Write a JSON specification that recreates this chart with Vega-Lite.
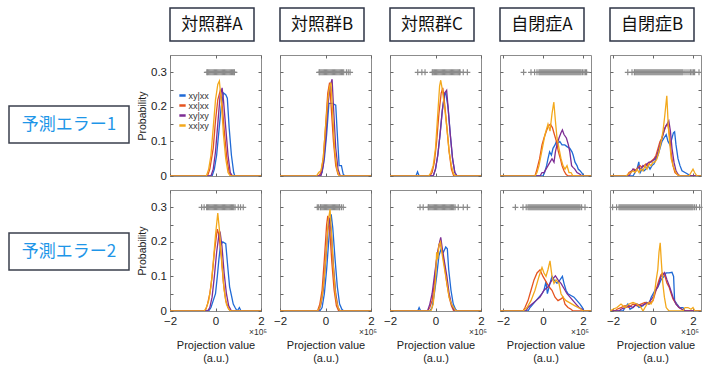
{
"$schema":"https://vega.github.io/schema/vega-lite/v6.json",
"padding":{"left":8,"top":6,"right":0,"bottom":0},
"background":"white",
"config":{
"view":{"stroke":"#8c8c8c","strokeWidth":1},
"axis":{"domain":false,"grid":false,"tickSize":-3,"tickColor":"#666","tickWidth":1,"labelFont":"Liberation Sans","labelFontSize":11.5,"labelColor":"#222","labelOverlap":false,"labelFlush":false,"titleFont":"Liberation Sans","titleFontSize":11,"titleFontWeight":"normal","titleColor":"#222"},
"text":{"font":"Noto Sans CJK JP"}
},
"spacing":7,
"hconcat":[
{"spacing":88,"vconcat":[
{"width":120,"height":8,"view":{"stroke":null},"data":{"values":[{"t":""}]},"mark":{"type":"text"},"encoding":{"text":{"field":"t"}}},
{"width":120,"height":37,"view":{"stroke":"#3a3f4c","strokeWidth":1.5},"data":{"values":[{"t":"予測エラー1"}]},"mark":{"type":"text","font":"Noto Sans CJK JP","fontSize":17,"color":"#1e96e8"},"encoding":{"text":{"field":"t"}}},
{"width":120,"height":37,"view":{"stroke":"#3a3f4c","strokeWidth":1.5},"data":{"values":[{"t":"予測エラー2"}]},"mark":{"type":"text","font":"Noto Sans CJK JP","fontSize":17,"color":"#1e96e8"},"encoding":{"text":{"field":"t"}}}
]},
{"columns":5,"bounds":"flush","spacing":{"row":14,"column":19},"align":{"row":"each","column":"all"},
"resolve":{"scale":{"color":"independent"},"legend":{"color":"independent"}},
"concat":[
{"width":84,"height":33,"view":{"stroke":"#2e3446","strokeWidth":1.5},"data":{"values":[{"t":"対照群A"}]},"mark":{"type":"text","fontSize":17,"color":"#111"},"encoding":{"text":{"field":"t"}}},
{"width":84,"height":33,"view":{"stroke":"#2e3446","strokeWidth":1.5},"data":{"values":[{"t":"対照群B"}]},"mark":{"type":"text","fontSize":17,"color":"#111"},"encoding":{"text":{"field":"t"}}},
{"width":84,"height":33,"view":{"stroke":"#2e3446","strokeWidth":1.5},"data":{"values":[{"t":"対照群C"}]},"mark":{"type":"text","fontSize":17,"color":"#111"},"encoding":{"text":{"field":"t"}}},
{"width":84,"height":33,"view":{"stroke":"#2e3446","strokeWidth":1.5},"data":{"values":[{"t":"自閉症A"}]},"mark":{"type":"text","fontSize":17,"color":"#111"},"encoding":{"text":{"field":"t"}}},
{"width":84,"height":33,"view":{"stroke":"#2e3446","strokeWidth":1.5},"data":{"values":[{"t":"自閉症B"}]},"mark":{"type":"text","fontSize":17,"color":"#111"},"encoding":{"text":{"field":"t"}}},

{"width":91,"height":121,"resolve":{"axis":{"x":"independent","y":"independent"}},"layer":[
{"data":{"values":[{"x":-0.38},{"x":-0.35},{"x":-0.3},{"x":-0.25},{"x":-0.2},{"x":-0.15},{"x":-0.1},{"x":-0.05},{"x":0},{"x":0.05},{"x":0.1},{"x":0.15},{"x":0.2},{"x":0.25},{"x":0.3},{"x":0.35},{"x":0.4},{"x":0.45},{"x":0.5},{"x":0.55},{"x":0.6},{"x":0.65},{"x":0.7},{"x":0.75},{"x":0.8},{"x":0.83}]},
"mark":{"type":"point","shape":"M-1,0H1M0,-1V1","size":36,"filled":false,"color":"#8a8a8a","strokeWidth":1.2,"opacity":1},
"encoding":{"x":{"field":"x","type":"quantitative","scale":{"domain":[-2,2],"nice":false,"zero":false},"axis":{"orient":"top","values":[-2,0,2],"labels":false,"title":null}},"y":{"datum":0.3,"type":"quantitative","scale":{"domain":[0,0.35],"nice":false},"axis":{"orient":"right","values":[0,0.05,0.1,0.15,0.2,0.25,0.3],"labels":false,"title":null}}}},
{"data":{"values":[
{"s":"xy|xx","x":-2,"y":0},{"s":"xy|xx","x":-0.15,"y":0},{"s":"xy|xx","x":-0.05,"y":0.02},{"s":"xy|xx","x":0.05,"y":0.06},{"s":"xy|xx","x":0.15,"y":0.13},{"s":"xy|xx","x":0.25,"y":0.2},{"s":"xy|xx","x":0.35,"y":0.24},{"s":"xy|xx","x":0.45,"y":0.235},{"s":"xy|xx","x":0.52,"y":0.225},{"s":"xy|xx","x":0.6,"y":0.14},{"s":"xy|xx","x":0.7,"y":0.06},{"s":"xy|xx","x":0.8,"y":0.01},{"s":"xy|xx","x":0.85,"y":0},{"s":"xy|xx","x":2,"y":0},
{"s":"xx|xx","x":-2,"y":0},{"s":"xx|xx","x":-0.35,"y":0},{"s":"xx|xx","x":-0.25,"y":0.02},{"s":"xx|xx","x":-0.1,"y":0.08},{"s":"xx|xx","x":0,"y":0.16},{"s":"xx|xx","x":0.1,"y":0.22},{"s":"xx|xx","x":0.22,"y":0.25},{"s":"xx|xx","x":0.3,"y":0.2},{"s":"xx|xx","x":0.4,"y":0.12},{"s":"xx|xx","x":0.5,"y":0.05},{"s":"xx|xx","x":0.6,"y":0.01},{"s":"xx|xx","x":0.7,"y":0},{"s":"xx|xx","x":2,"y":0},
{"s":"xy|xy","x":-2,"y":0},{"s":"xy|xy","x":-0.2,"y":0},{"s":"xy|xy","x":-0.1,"y":0.02},{"s":"xy|xy","x":0,"y":0.07},{"s":"xy|xy","x":0.1,"y":0.15},{"s":"xy|xy","x":0.2,"y":0.23},{"s":"xy|xy","x":0.29,"y":0.255},{"s":"xy|xy","x":0.35,"y":0.22},{"s":"xy|xy","x":0.45,"y":0.14},{"s":"xy|xy","x":0.55,"y":0.06},{"s":"xy|xy","x":0.65,"y":0.01},{"s":"xy|xy","x":0.75,"y":0},{"s":"xy|xy","x":2,"y":0},
{"s":"xx|xy","x":-2,"y":0},{"s":"xx|xy","x":-0.4,"y":0},{"s":"xx|xy","x":-0.3,"y":0.02},{"s":"xx|xy","x":-0.2,"y":0.06},{"s":"xx|xy","x":-0.1,"y":0.14},{"s":"xx|xy","x":0,"y":0.22},{"s":"xx|xy","x":0.1,"y":0.265},{"s":"xx|xy","x":0.17,"y":0.275},{"s":"xx|xy","x":0.25,"y":0.22},{"s":"xx|xy","x":0.35,"y":0.12},{"s":"xx|xy","x":0.45,"y":0.05},{"s":"xx|xy","x":0.55,"y":0.01},{"s":"xx|xy","x":0.65,"y":0},{"s":"xx|xy","x":2,"y":0}
]},
"mark":{"type":"line","strokeWidth":1.3,"clip":true},
"encoding":{"x":{"field":"x","type":"quantitative","scale":{"domain":[-2,2],"nice":false,"zero":false},"axis":{"values":[-2,0,2],"labels":false,"title":null}},
"y":{"field":"y","type":"quantitative","scale":{"domain":[0,0.35],"nice":false},"axis":{"values":[0,0.05,0.1,0.15,0.2,0.25,0.3],"format":".2~f","labelExpr":"indexof([0,0.1,0.2,0.3], datum.value) >= 0 ? datum.label : ''","labelPadding":6.5,"title":"Probability","titleFontSize":10.5,"titlePadding":3}},
"color":{"field":"s","type":"nominal","scale":{"domain":["xy|xx","xx|xx","xy|xy","xx|xy"],"range":["#1f6ad6","#e5531f","#7d2d94","#f3a81b"]},"legend":{"orient":"none","legendX":8,"legendY":36,"title":null,"symbolType":"stroke","symbolSize":40,"symbolStrokeWidth":2.5,"labelFontSize":9,"labelFont":"Liberation Sans","labelColor":"#333","rowPadding":-2,"labelOffset":1.5,"padding":0}}}}
]},

{"width":91,"height":121,"resolve":{"axis":{"x":"independent","y":"independent"}},"layer":[
{"data":{"values":[{"x":-0.28},{"x":-0.25},{"x":-0.2},{"x":-0.15},{"x":-0.1},{"x":-0.05},{"x":0},{"x":0.05},{"x":0.1},{"x":0.15},{"x":0.2},{"x":0.25},{"x":0.3},{"x":0.35},{"x":0.4},{"x":0.45},{"x":0.5},{"x":0.55},{"x":0.6},{"x":0.65},{"x":0.7},{"x":0.75},{"x":0.8},{"x":0.92},{"x":1.0},{"x":1.08}]},
"mark":{"type":"point","shape":"M-1,0H1M0,-1V1","size":36,"filled":false,"color":"#8a8a8a","strokeWidth":1.2,"opacity":1},
"encoding":{"x":{"field":"x","type":"quantitative","scale":{"domain":[-2,2],"nice":false,"zero":false},"axis":{"orient":"top","values":[-2,0,2],"labels":false,"title":null}},"y":{"datum":0.3,"type":"quantitative","scale":{"domain":[0,0.35],"nice":false},"axis":{"orient":"right","values":[0,0.05,0.1,0.15,0.2,0.25,0.3],"labels":false,"title":null}}}},
{"data":{"values":[
{"s":"xy|xx","x":-2,"y":0},{"s":"xy|xx","x":-0.25,"y":0},{"s":"xy|xx","x":-0.15,"y":0.01},{"s":"xy|xx","x":-0.05,"y":0.05},{"s":"xy|xx","x":0.05,"y":0.12},{"s":"xy|xx","x":0.15,"y":0.21},{"s":"xy|xx","x":0.3,"y":0.21},{"s":"xy|xx","x":0.45,"y":0.205},{"s":"xy|xx","x":0.52,"y":0.12},{"s":"xy|xx","x":0.6,"y":0.03},{"s":"xy|xx","x":0.7,"y":0.03},{"s":"xy|xx","x":0.78,"y":0.005},{"s":"xy|xx","x":0.85,"y":0},{"s":"xy|xx","x":2,"y":0},
{"s":"xx|xx","x":-2,"y":0},{"s":"xx|xx","x":-0.3,"y":0},{"s":"xx|xx","x":-0.2,"y":0.01},{"s":"xx|xx","x":-0.1,"y":0.05},{"s":"xx|xx","x":0,"y":0.14},{"s":"xx|xx","x":0.1,"y":0.24},{"s":"xx|xx","x":0.18,"y":0.27},{"s":"xx|xx","x":0.25,"y":0.2},{"s":"xx|xx","x":0.35,"y":0.1},{"s":"xx|xx","x":0.45,"y":0.03},{"s":"xx|xx","x":0.55,"y":0.005},{"s":"xx|xx","x":0.65,"y":0},{"s":"xx|xx","x":2,"y":0},
{"s":"xy|xy","x":-2,"y":0},{"s":"xy|xy","x":-0.2,"y":0},{"s":"xy|xy","x":-0.1,"y":0.03},{"s":"xy|xy","x":0,"y":0.1},{"s":"xy|xy","x":0.1,"y":0.2},{"s":"xy|xy","x":0.2,"y":0.26},{"s":"xy|xy","x":0.29,"y":0.28},{"s":"xy|xy","x":0.35,"y":0.2},{"s":"xy|xy","x":0.45,"y":0.08},{"s":"xy|xy","x":0.55,"y":0.02},{"s":"xy|xy","x":0.65,"y":0},{"s":"xy|xy","x":2,"y":0},
{"s":"xx|xy","x":-2,"y":0},{"s":"xx|xy","x":-0.4,"y":0},{"s":"xx|xy","x":-0.3,"y":0.01},{"s":"xx|xy","x":-0.2,"y":0.015},{"s":"xx|xy","x":-0.1,"y":0.05},{"s":"xx|xy","x":0,"y":0.14},{"s":"xx|xy","x":0.1,"y":0.22},{"s":"xx|xy","x":0.18,"y":0.26},{"s":"xx|xy","x":0.24,"y":0.27},{"s":"xx|xy","x":0.3,"y":0.2},{"s":"xx|xy","x":0.4,"y":0.08},{"s":"xx|xy","x":0.5,"y":0.02},{"s":"xx|xy","x":0.6,"y":0},{"s":"xx|xy","x":2,"y":0}
]},
"mark":{"type":"line","strokeWidth":1.3,"clip":true},
"encoding":{"x":{"field":"x","type":"quantitative","scale":{"domain":[-2,2],"nice":false,"zero":false},"axis":{"values":[-2,0,2],"labels":false,"title":null}},
"y":{"field":"y","type":"quantitative","scale":{"domain":[0,0.35],"nice":false},"axis":{"values":[0,0.05,0.1,0.15,0.2,0.25,0.3],"labels":false,"title":null}},
"color":{"field":"s","type":"nominal","scale":{"domain":["xy|xx","xx|xx","xy|xy","xx|xy"],"range":["#1f6ad6","#e5531f","#7d2d94","#f3a81b"]},"legend":null}}}
]},

{"width":91,"height":121,"resolve":{"axis":{"x":"independent","y":"independent"}},"layer":[
{"data":{"values":[{"x":-0.78},{"x":-0.6},{"x":-0.46},{"x":-0.14},{"x":-0.1},{"x":-0.05},{"x":0},{"x":0.05},{"x":0.1},{"x":0.15},{"x":0.2},{"x":0.25},{"x":0.3},{"x":0.35},{"x":0.4},{"x":0.45},{"x":0.5},{"x":0.55},{"x":0.6},{"x":0.65},{"x":0.7},{"x":0.75},{"x":0.8},{"x":0.85},{"x":0.9},{"x":0.95},{"x":1.0},{"x":1.05},{"x":1.08},{"x":1.22},{"x":1.4}]},
"mark":{"type":"point","shape":"M-1,0H1M0,-1V1","size":36,"filled":false,"color":"#8a8a8a","strokeWidth":1.2,"opacity":1},
"encoding":{"x":{"field":"x","type":"quantitative","scale":{"domain":[-2,2],"nice":false,"zero":false},"axis":{"orient":"top","values":[-2,0,2],"labels":false,"title":null}},"y":{"datum":0.3,"type":"quantitative","scale":{"domain":[0,0.35],"nice":false},"axis":{"orient":"right","values":[0,0.05,0.1,0.15,0.2,0.25,0.3],"labels":false,"title":null}}}},
{"data":{"values":[
{"s":"xy|xx","x":-2,"y":0},{"s":"xy|xx","x":-0.86,"y":0},{"s":"xy|xx","x":-0.79,"y":0.012},{"s":"xy|xx","x":-0.72,"y":0},{"s":"xy|xx","x":-0.1,"y":0},{"s":"xy|xx","x":0,"y":0.02},{"s":"xy|xx","x":0.1,"y":0.06},{"s":"xy|xx","x":0.2,"y":0.12},{"s":"xy|xx","x":0.3,"y":0.19},{"s":"xy|xx","x":0.4,"y":0.235},{"s":"xy|xx","x":0.45,"y":0.24},{"s":"xy|xx","x":0.55,"y":0.2},{"s":"xy|xx","x":0.65,"y":0.12},{"s":"xy|xx","x":0.75,"y":0.05},{"s":"xy|xx","x":0.85,"y":0.01},{"s":"xy|xx","x":0.95,"y":0},{"s":"xy|xx","x":2,"y":0},
{"s":"xx|xx","x":-2,"y":0},{"s":"xx|xx","x":-0.25,"y":0},{"s":"xx|xx","x":-0.15,"y":0.01},{"s":"xx|xx","x":-0.05,"y":0.04},{"s":"xx|xx","x":0.05,"y":0.1},{"s":"xx|xx","x":0.15,"y":0.18},{"s":"xx|xx","x":0.25,"y":0.24},{"s":"xx|xx","x":0.32,"y":0.255},{"s":"xx|xx","x":0.4,"y":0.21},{"s":"xx|xx","x":0.5,"y":0.14},{"s":"xx|xx","x":0.6,"y":0.07},{"s":"xx|xx","x":0.7,"y":0.02},{"s":"xx|xx","x":0.8,"y":0},{"s":"xx|xx","x":2,"y":0},
{"s":"xy|xy","x":-2,"y":0},{"s":"xy|xy","x":-0.1,"y":0},{"s":"xy|xy","x":0,"y":0.02},{"s":"xy|xy","x":0.1,"y":0.06},{"s":"xy|xy","x":0.2,"y":0.12},{"s":"xy|xy","x":0.3,"y":0.19},{"s":"xy|xy","x":0.4,"y":0.24},{"s":"xy|xy","x":0.49,"y":0.248},{"s":"xy|xy","x":0.55,"y":0.2},{"s":"xy|xy","x":0.65,"y":0.12},{"s":"xy|xy","x":0.75,"y":0.05},{"s":"xy|xy","x":0.85,"y":0.01},{"s":"xy|xy","x":0.95,"y":0},{"s":"xy|xy","x":2,"y":0},
{"s":"xx|xy","x":-2,"y":0},{"s":"xx|xy","x":-0.3,"y":0},{"s":"xx|xy","x":-0.2,"y":0.01},{"s":"xx|xy","x":-0.1,"y":0.03},{"s":"xx|xy","x":0,"y":0.08},{"s":"xx|xy","x":0.1,"y":0.18},{"s":"xx|xy","x":0.18,"y":0.26},{"s":"xx|xy","x":0.23,"y":0.277},{"s":"xx|xy","x":0.3,"y":0.25},{"s":"xx|xy","x":0.4,"y":0.2},{"s":"xx|xy","x":0.5,"y":0.14},{"s":"xx|xy","x":0.6,"y":0.07},{"s":"xx|xy","x":0.7,"y":0.03},{"s":"xx|xy","x":0.8,"y":0.005},{"s":"xx|xy","x":0.9,"y":0},{"s":"xx|xy","x":2,"y":0}
]},
"mark":{"type":"line","strokeWidth":1.3,"clip":true},
"encoding":{"x":{"field":"x","type":"quantitative","scale":{"domain":[-2,2],"nice":false,"zero":false},"axis":{"values":[-2,0,2],"labels":false,"title":null}},
"y":{"field":"y","type":"quantitative","scale":{"domain":[0,0.35],"nice":false},"axis":{"values":[0,0.05,0.1,0.15,0.2,0.25,0.3],"labels":false,"title":null}},
"color":{"field":"s","type":"nominal","scale":{"domain":["xy|xx","xx|xx","xy|xy","xx|xy"],"range":["#1f6ad6","#e5531f","#7d2d94","#f3a81b"]},"legend":null}}}
]},

{"width":91,"height":121,"resolve":{"axis":{"x":"independent","y":"independent"}},"layer":[
{"data":{"values":[{"x":-0.97},{"x":-0.6},{"x":-0.42},{"x":-0.3},{"x":-0.2},{"x":-0.15},{"x":-0.1},{"x":-0.05},{"x":0},{"x":0.05},{"x":0.1},{"x":0.15},{"x":0.2},{"x":0.25},{"x":0.3},{"x":0.35},{"x":0.4},{"x":0.45},{"x":0.5},{"x":0.55},{"x":0.6},{"x":0.65},{"x":0.7},{"x":0.75},{"x":0.8},{"x":0.85},{"x":0.9},{"x":0.95},{"x":1.0},{"x":1.05},{"x":1.1},{"x":1.15},{"x":1.2},{"x":1.25},{"x":1.3},{"x":1.35},{"x":1.4},{"x":1.45},{"x":1.5},{"x":1.55},{"x":1.6},{"x":1.65},{"x":1.7},{"x":1.75},{"x":1.8},{"x":1.85},{"x":1.9},{"x":1.97},{"x":2.05},{"x":2.12},{"x":2.18}]},
"mark":{"type":"point","shape":"M-1,0H1M0,-1V1","size":36,"filled":false,"color":"#8a8a8a","strokeWidth":1.2,"opacity":1},
"encoding":{"x":{"field":"x","type":"quantitative","scale":{"domain":[-2.15,2.4],"nice":false,"zero":false},"axis":{"orient":"top","values":[-2,0,2],"labels":false,"title":null}},"y":{"datum":0.3,"type":"quantitative","scale":{"domain":[0,0.35],"nice":false},"axis":{"orient":"right","values":[0,0.05,0.1,0.15,0.2,0.25,0.3],"labels":false,"title":null}}}},
{"data":{"values":[
{"s":"xy|xx","x":-2.15,"y":0},{"s":"xy|xx","x":0,"y":0},{"s":"xy|xx","x":0.08,"y":0.01},{"s":"xy|xx","x":0.18,"y":0.03},{"s":"xy|xx","x":0.25,"y":0.05},{"s":"xy|xx","x":0.33,"y":0.07},{"s":"xy|xx","x":0.42,"y":0.06},{"s":"xy|xx","x":0.5,"y":0.08},{"s":"xy|xx","x":0.6,"y":0.09},{"s":"xy|xx","x":0.67,"y":0.1},{"s":"xy|xx","x":0.75,"y":0.095},{"s":"xy|xx","x":0.84,"y":0.1},{"s":"xy|xx","x":0.95,"y":0.09},{"s":"xy|xx","x":1.09,"y":0.09},{"s":"xy|xx","x":1.2,"y":0.085},{"s":"xy|xx","x":1.34,"y":0.08},{"s":"xy|xx","x":1.45,"y":0.07},{"s":"xy|xx","x":1.51,"y":0.06},{"s":"xy|xx","x":1.6,"y":0.04},{"s":"xy|xx","x":1.7,"y":0.03},{"s":"xy|xx","x":1.76,"y":0.02},{"s":"xy|xx","x":1.85,"y":0.015},{"s":"xy|xx","x":1.93,"y":0.01},{"s":"xy|xx","x":2.05,"y":0},{"s":"xy|xx","x":2.4,"y":0},
{"s":"xx|xx","x":-2.15,"y":0},{"s":"xx|xx","x":-0.4,"y":0},{"s":"xx|xx","x":-0.3,"y":0.02},{"s":"xx|xx","x":-0.17,"y":0.05},{"s":"xx|xx","x":-0.05,"y":0.09},{"s":"xx|xx","x":0.05,"y":0.11},{"s":"xx|xx","x":0.17,"y":0.13},{"s":"xx|xx","x":0.27,"y":0.145},{"s":"xx|xx","x":0.37,"y":0.15},{"s":"xx|xx","x":0.47,"y":0.14},{"s":"xx|xx","x":0.57,"y":0.12},{"s":"xx|xx","x":0.67,"y":0.1},{"s":"xx|xx","x":0.77,"y":0.07},{"s":"xx|xx","x":0.87,"y":0.05},{"s":"xx|xx","x":0.95,"y":0.03},{"s":"xx|xx","x":1.05,"y":0.015},{"s":"xx|xx","x":1.15,"y":0.005},{"s":"xx|xx","x":1.25,"y":0},{"s":"xx|xx","x":2.4,"y":0},
{"s":"xy|xy","x":-2.15,"y":0},{"s":"xy|xy","x":-0.15,"y":0},{"s":"xy|xy","x":-0.05,"y":0.01},{"s":"xy|xy","x":0.05,"y":0.01},{"s":"xy|xy","x":0.15,"y":0.02},{"s":"xy|xy","x":0.25,"y":0.03},{"s":"xy|xy","x":0.35,"y":0.04},{"s":"xy|xy","x":0.45,"y":0.05},{"s":"xy|xy","x":0.55,"y":0.04},{"s":"xy|xy","x":0.62,"y":0.07},{"s":"xy|xy","x":0.7,"y":0.09},{"s":"xy|xy","x":0.8,"y":0.11},{"s":"xy|xy","x":0.9,"y":0.125},{"s":"xy|xy","x":0.97,"y":0.133},{"s":"xy|xy","x":1.05,"y":0.12},{"s":"xy|xy","x":1.17,"y":0.11},{"s":"xy|xy","x":1.27,"y":0.09},{"s":"xy|xy","x":1.34,"y":0.07},{"s":"xy|xy","x":1.43,"y":0.03},{"s":"xy|xy","x":1.5,"y":0.025},{"s":"xy|xy","x":1.59,"y":0.02},{"s":"xy|xy","x":1.7,"y":0.01},{"s":"xy|xy","x":1.85,"y":0.005},{"s":"xy|xy","x":1.95,"y":0},{"s":"xy|xy","x":2.4,"y":0},
{"s":"xx|xy","x":-2.15,"y":0},{"s":"xx|xy","x":-0.4,"y":0},{"s":"xx|xy","x":-0.3,"y":0.01},{"s":"xx|xy","x":-0.2,"y":0.03},{"s":"xx|xy","x":-0.1,"y":0.06},{"s":"xx|xy","x":0,"y":0.09},{"s":"xx|xy","x":0.1,"y":0.12},{"s":"xx|xy","x":0.25,"y":0.15},{"s":"xx|xy","x":0.35,"y":0.13},{"s":"xx|xy","x":0.45,"y":0.18},{"s":"xx|xy","x":0.54,"y":0.214},{"s":"xx|xy","x":0.62,"y":0.16},{"s":"xx|xy","x":0.7,"y":0.11},{"s":"xx|xy","x":0.8,"y":0.08},{"s":"xx|xy","x":0.9,"y":0.05},{"s":"xx|xy","x":1.0,"y":0.03},{"s":"xx|xy","x":1.1,"y":0.02},{"s":"xx|xy","x":1.2,"y":0.03},{"s":"xx|xy","x":1.3,"y":0.01},{"s":"xx|xy","x":1.4,"y":0.01},{"s":"xx|xy","x":1.5,"y":0},{"s":"xx|xy","x":2.4,"y":0}
]},
"mark":{"type":"line","strokeWidth":1.3,"clip":true},
"encoding":{"x":{"field":"x","type":"quantitative","scale":{"domain":[-2.15,2.4],"nice":false,"zero":false},"axis":{"values":[-2,0,2],"labels":false,"title":null}},
"y":{"field":"y","type":"quantitative","scale":{"domain":[0,0.35],"nice":false},"axis":{"values":[0,0.05,0.1,0.15,0.2,0.25,0.3],"labels":false,"title":null}},
"color":{"field":"s","type":"nominal","scale":{"domain":["xy|xx","xx|xx","xy|xy","xx|xy"],"range":["#1f6ad6","#e5531f","#7d2d94","#f3a81b"]},"legend":null}}}
]},

{"width":91,"height":121,"resolve":{"axis":{"x":"independent","y":"independent"}},"layer":[
{"data":{"values":[{"x":-1.26},{"x":-1.05},{"x":-0.93},{"x":-0.9},{"x":-0.85},{"x":-0.8},{"x":-0.75},{"x":-0.7},{"x":-0.65},{"x":-0.6},{"x":-0.55},{"x":-0.5},{"x":-0.45},{"x":-0.4},{"x":-0.35},{"x":-0.3},{"x":-0.25},{"x":-0.2},{"x":-0.15},{"x":-0.1},{"x":-0.05},{"x":0},{"x":0.05},{"x":0.1},{"x":0.15},{"x":0.2},{"x":0.25},{"x":0.3},{"x":0.35},{"x":0.4},{"x":0.45},{"x":0.5},{"x":0.55},{"x":0.6},{"x":0.65},{"x":0.7},{"x":0.75},{"x":0.8},{"x":0.85},{"x":0.9},{"x":0.95},{"x":1.0},{"x":1.05},{"x":1.1},{"x":1.15},{"x":1.2},{"x":1.25},{"x":1.3},{"x":1.35},{"x":1.4},{"x":1.45},{"x":1.5},{"x":1.6},{"x":1.7},{"x":1.8},{"x":1.88},{"x":1.95},{"x":2.02},{"x":2.08},{"x":2.3}]},
"mark":{"type":"point","shape":"M-1,0H1M0,-1V1","size":36,"filled":false,"color":"#8a8a8a","strokeWidth":1.2,"opacity":1},
"encoding":{"x":{"field":"x","type":"quantitative","scale":{"domain":[-2.15,2.4],"nice":false,"zero":false},"axis":{"orient":"top","values":[-2,0,2],"labels":false,"title":null}},"y":{"datum":0.3,"type":"quantitative","scale":{"domain":[0,0.35],"nice":false},"axis":{"orient":"right","values":[0,0.05,0.1,0.15,0.2,0.25,0.3],"labels":false,"title":null}}}},
{"data":{"values":[
{"s":"xy|xx","x":-2.15,"y":0},{"s":"xy|xx","x":-1.0,"y":0},{"s":"xy|xx","x":-0.9,"y":0.01},{"s":"xy|xx","x":-0.8,"y":0.02},{"s":"xy|xx","x":-0.71,"y":0.041},{"s":"xy|xx","x":-0.64,"y":0.01},{"s":"xy|xx","x":-0.55,"y":0.02},{"s":"xy|xx","x":-0.45,"y":0.015},{"s":"xy|xx","x":-0.35,"y":0.02},{"s":"xy|xx","x":-0.25,"y":0.03},{"s":"xy|xx","x":-0.15,"y":0.02},{"s":"xy|xx","x":-0.05,"y":0.03},{"s":"xy|xx","x":0.05,"y":0.035},{"s":"xy|xx","x":0.15,"y":0.05},{"s":"xy|xx","x":0.25,"y":0.06},{"s":"xy|xx","x":0.35,"y":0.08},{"s":"xy|xx","x":0.45,"y":0.1},{"s":"xy|xx","x":0.55,"y":0.11},{"s":"xy|xx","x":0.66,"y":0.12},{"s":"xy|xx","x":0.75,"y":0.1},{"s":"xy|xx","x":0.85,"y":0.09},{"s":"xy|xx","x":0.95,"y":0.11},{"s":"xy|xx","x":1.02,"y":0.125},{"s":"xy|xx","x":1.08,"y":0.128},{"s":"xy|xx","x":1.15,"y":0.09},{"s":"xy|xx","x":1.25,"y":0.05},{"s":"xy|xx","x":1.35,"y":0.03},{"s":"xy|xx","x":1.45,"y":0.015},{"s":"xy|xx","x":1.6,"y":0.01},{"s":"xy|xx","x":1.75,"y":0.005},{"s":"xy|xx","x":1.85,"y":0},{"s":"xy|xx","x":2.4,"y":0},
{"s":"xx|xx","x":-2.15,"y":0},{"s":"xx|xx","x":-1.3,"y":0},{"s":"xx|xx","x":-1.2,"y":0.01},{"s":"xx|xx","x":-1.05,"y":0.015},{"s":"xx|xx","x":-0.95,"y":0.02},{"s":"xx|xx","x":-0.85,"y":0.015},{"s":"xx|xx","x":-0.75,"y":0.025},{"s":"xx|xx","x":-0.65,"y":0.03},{"s":"xx|xx","x":-0.55,"y":0.025},{"s":"xx|xx","x":-0.45,"y":0.03},{"s":"xx|xx","x":-0.35,"y":0.035},{"s":"xx|xx","x":-0.25,"y":0.03},{"s":"xx|xx","x":-0.15,"y":0.04},{"s":"xx|xx","x":-0.05,"y":0.045},{"s":"xx|xx","x":0.05,"y":0.05},{"s":"xx|xx","x":0.15,"y":0.06},{"s":"xx|xx","x":0.25,"y":0.08},{"s":"xx|xx","x":0.35,"y":0.1},{"s":"xx|xx","x":0.45,"y":0.11},{"s":"xx|xx","x":0.55,"y":0.13},{"s":"xx|xx","x":0.65,"y":0.145},{"s":"xx|xx","x":0.74,"y":0.15},{"s":"xx|xx","x":0.82,"y":0.12},{"s":"xx|xx","x":0.9,"y":0.07},{"s":"xx|xx","x":1.0,"y":0.03},{"s":"xx|xx","x":1.1,"y":0.01},{"s":"xx|xx","x":1.2,"y":0.005},{"s":"xx|xx","x":1.3,"y":0},{"s":"xx|xx","x":2.4,"y":0},
{"s":"xy|xy","x":-2.15,"y":0},{"s":"xy|xy","x":-1.2,"y":0},{"s":"xy|xy","x":-1.1,"y":0.01},{"s":"xy|xy","x":-1.0,"y":0.02},{"s":"xy|xy","x":-0.9,"y":0.015},{"s":"xy|xy","x":-0.8,"y":0.02},{"s":"xy|xy","x":-0.7,"y":0.025},{"s":"xy|xy","x":-0.6,"y":0.02},{"s":"xy|xy","x":-0.5,"y":0.03},{"s":"xy|xy","x":-0.4,"y":0.025},{"s":"xy|xy","x":-0.3,"y":0.035},{"s":"xy|xy","x":-0.2,"y":0.04},{"s":"xy|xy","x":-0.1,"y":0.04},{"s":"xy|xy","x":0,"y":0.045},{"s":"xy|xy","x":0.1,"y":0.05},{"s":"xy|xy","x":0.2,"y":0.06},{"s":"xy|xy","x":0.3,"y":0.08},{"s":"xy|xy","x":0.4,"y":0.1},{"s":"xy|xy","x":0.5,"y":0.12},{"s":"xy|xy","x":0.6,"y":0.14},{"s":"xy|xy","x":0.7,"y":0.15},{"s":"xy|xy","x":0.79,"y":0.16},{"s":"xy|xy","x":0.87,"y":0.13},{"s":"xy|xy","x":0.95,"y":0.08},{"s":"xy|xy","x":1.05,"y":0.04},{"s":"xy|xy","x":1.15,"y":0.015},{"s":"xy|xy","x":1.25,"y":0.005},{"s":"xy|xy","x":1.35,"y":0},{"s":"xy|xy","x":2.4,"y":0},
{"s":"xx|xy","x":-2.15,"y":0},{"s":"xx|xy","x":-1.35,"y":0},{"s":"xx|xy","x":-1.25,"y":0.005},{"s":"xx|xy","x":-1.1,"y":0.01},{"s":"xx|xy","x":-1.0,"y":0.015},{"s":"xx|xy","x":-0.9,"y":0.01},{"s":"xx|xy","x":-0.8,"y":0.02},{"s":"xx|xy","x":-0.7,"y":0.01},{"s":"xx|xy","x":-0.6,"y":0.02},{"s":"xx|xy","x":-0.5,"y":0.015},{"s":"xx|xy","x":-0.4,"y":0.03},{"s":"xx|xy","x":-0.3,"y":0.02},{"s":"xx|xy","x":-0.2,"y":0.035},{"s":"xx|xy","x":-0.1,"y":0.03},{"s":"xx|xy","x":0,"y":0.04},{"s":"xx|xy","x":0.1,"y":0.04},{"s":"xx|xy","x":0.2,"y":0.05},{"s":"xx|xy","x":0.3,"y":0.07},{"s":"xx|xy","x":0.41,"y":0.1},{"s":"xx|xy","x":0.5,"y":0.13},{"s":"xx|xy","x":0.58,"y":0.17},{"s":"xx|xy","x":0.69,"y":0.232},{"s":"xx|xy","x":0.76,"y":0.15},{"s":"xx|xy","x":0.83,"y":0.1},{"s":"xx|xy","x":0.91,"y":0.05},{"s":"xx|xy","x":1.0,"y":0.03},{"s":"xx|xy","x":1.1,"y":0.015},{"s":"xx|xy","x":1.2,"y":0.005},{"s":"xx|xy","x":1.35,"y":0},{"s":"xx|xy","x":1.8,"y":0},{"s":"xx|xy","x":1.9,"y":0.01},{"s":"xx|xy","x":2.0,"y":0.02},{"s":"xx|xy","x":2.08,"y":0.01},{"s":"xx|xy","x":2.2,"y":0},{"s":"xx|xy","x":2.4,"y":0}
]},
"mark":{"type":"line","strokeWidth":1.3,"clip":true},
"encoding":{"x":{"field":"x","type":"quantitative","scale":{"domain":[-2.15,2.4],"nice":false,"zero":false},"axis":{"values":[-2,0,2],"labels":false,"title":null}},
"y":{"field":"y","type":"quantitative","scale":{"domain":[0,0.35],"nice":false},"axis":{"values":[0,0.05,0.1,0.15,0.2,0.25,0.3],"labels":false,"title":null}},
"color":{"field":"s","type":"nominal","scale":{"domain":["xy|xx","xx|xx","xy|xy","xx|xy"],"range":["#1f6ad6","#e5531f","#7d2d94","#f3a81b"]},"legend":null}}}
]},

{"width":91,"height":121,"resolve":{"axis":{"x":"independent","y":"independent"}},"layer":[
{"data":{"values":[{"x":-0.61},{"x":-0.5},{"x":-0.39},{"x":-0.35},{"x":-0.3},{"x":-0.25},{"x":-0.2},{"x":-0.15},{"x":-0.1},{"x":-0.05},{"x":0},{"x":0.05},{"x":0.1},{"x":0.15},{"x":0.2},{"x":0.25},{"x":0.3},{"x":0.35},{"x":0.4},{"x":0.45},{"x":0.5},{"x":0.55},{"x":0.6},{"x":0.65},{"x":0.7},{"x":0.75},{"x":0.8},{"x":0.86},{"x":1.0},{"x":1.1},{"x":1.22}]},
"mark":{"type":"point","shape":"M-1,0H1M0,-1V1","size":36,"filled":false,"color":"#8a8a8a","strokeWidth":1.2,"opacity":1},
"encoding":{"x":{"field":"x","type":"quantitative","scale":{"domain":[-2,2],"nice":false,"zero":false},"axis":{"orient":"top","values":[-2,0,2],"labels":false,"title":null}},"y":{"datum":0.3,"type":"quantitative","scale":{"domain":[0,0.35],"nice":false},"axis":{"orient":"right","values":[0,0.05,0.1,0.15,0.2,0.25,0.3],"labels":false,"title":null}}}},
{"data":{"values":[
{"s":"xy|xx","x":-2,"y":0},{"s":"xy|xx","x":-0.3,"y":0},{"s":"xy|xx","x":-0.2,"y":0.01},{"s":"xy|xx","x":-0.1,"y":0.03},{"s":"xy|xx","x":0,"y":0.05},{"s":"xy|xx","x":0.08,"y":0.1},{"s":"xy|xx","x":0.15,"y":0.15},{"s":"xy|xx","x":0.22,"y":0.19},{"s":"xy|xx","x":0.32,"y":0.2},{"s":"xy|xx","x":0.45,"y":0.195},{"s":"xy|xx","x":0.55,"y":0.12},{"s":"xy|xx","x":0.62,"y":0.07},{"s":"xy|xx","x":0.7,"y":0.045},{"s":"xy|xx","x":0.78,"y":0.02},{"s":"xy|xx","x":0.86,"y":0.01},{"s":"xy|xx","x":0.95,"y":0},{"s":"xy|xx","x":1.05,"y":0.01},{"s":"xy|xx","x":1.12,"y":0},{"s":"xy|xx","x":2,"y":0},
{"s":"xx|xx","x":-2,"y":0},{"s":"xx|xx","x":-0.45,"y":0},{"s":"xx|xx","x":-0.35,"y":0.02},{"s":"xx|xx","x":-0.25,"y":0.05},{"s":"xx|xx","x":-0.15,"y":0.1},{"s":"xx|xx","x":-0.05,"y":0.17},{"s":"xx|xx","x":0.08,"y":0.237},{"s":"xx|xx","x":0.15,"y":0.22},{"s":"xx|xx","x":0.25,"y":0.16},{"s":"xx|xx","x":0.35,"y":0.08},{"s":"xx|xx","x":0.45,"y":0.03},{"s":"xx|xx","x":0.55,"y":0.01},{"s":"xx|xx","x":0.65,"y":0},{"s":"xx|xx","x":2,"y":0},
{"s":"xy|xy","x":-2,"y":0},{"s":"xy|xy","x":-0.35,"y":0},{"s":"xy|xy","x":-0.25,"y":0.01},{"s":"xy|xy","x":-0.15,"y":0.04},{"s":"xy|xy","x":-0.05,"y":0.1},{"s":"xy|xy","x":0.05,"y":0.17},{"s":"xy|xy","x":0.15,"y":0.22},{"s":"xy|xy","x":0.2,"y":0.23},{"s":"xy|xy","x":0.28,"y":0.19},{"s":"xy|xy","x":0.38,"y":0.11},{"s":"xy|xy","x":0.48,"y":0.05},{"s":"xy|xy","x":0.58,"y":0.015},{"s":"xy|xy","x":0.7,"y":0},{"s":"xy|xy","x":2,"y":0},
{"s":"xx|xy","x":-2,"y":0},{"s":"xx|xy","x":-0.5,"y":0},{"s":"xx|xy","x":-0.4,"y":0.01},{"s":"xx|xy","x":-0.3,"y":0.03},{"s":"xx|xy","x":-0.2,"y":0.07},{"s":"xx|xy","x":-0.1,"y":0.14},{"s":"xx|xy","x":0,"y":0.22},{"s":"xx|xy","x":0.1,"y":0.283},{"s":"xx|xy","x":0.18,"y":0.23},{"s":"xx|xy","x":0.28,"y":0.14},{"s":"xx|xy","x":0.38,"y":0.06},{"s":"xx|xy","x":0.48,"y":0.02},{"s":"xx|xy","x":0.58,"y":0.005},{"s":"xx|xy","x":0.68,"y":0},{"s":"xx|xy","x":2,"y":0}
]},
"mark":{"type":"line","strokeWidth":1.3,"clip":true},
"encoding":{"x":{"field":"x","type":"quantitative","scale":{"domain":[-2,2],"nice":false,"zero":false},"axis":{"values":[-2,0,2],"labelPadding":7,"title":["Projection value","(a.u.)"],"titlePadding":13,"titleLineHeight":13}},
"y":{"field":"y","type":"quantitative","scale":{"domain":[0,0.35],"nice":false},"axis":{"values":[0,0.05,0.1,0.15,0.2,0.25,0.3],"format":".2~f","labelExpr":"indexof([0,0.1,0.2,0.3], datum.value) >= 0 ? datum.label : ''","labelPadding":6.5,"title":"Probability","titleFontSize":10.5,"titlePadding":3}},
"color":{"field":"s","type":"nominal","scale":{"domain":["xy|xx","xx|xx","xy|xy","xx|xy"],"range":["#1f6ad6","#e5531f","#7d2d94","#f3a81b"]},"legend":null}}},
{"data":{"values":[{"t":"×10⁵"}]},"mark":{"type":"text","align":"right","baseline":"middle","dx":6,"dy":21,"fontSize":8.5,"font":"Liberation Sans","color":"#333"},"encoding":{"x":{"datum":2,"type":"quantitative","axis":null},"y":{"datum":0,"type":"quantitative","axis":null},"text":{"field":"t"}}}
]},

{"width":91,"height":121,"resolve":{"axis":{"x":"independent","y":"independent"}},"layer":[
{"data":{"values":[{"x":-0.36},{"x":-0.3},{"x":-0.22},{"x":-0.2},{"x":-0.15},{"x":-0.1},{"x":-0.05},{"x":0},{"x":0.05},{"x":0.1},{"x":0.15},{"x":0.2},{"x":0.25},{"x":0.3},{"x":0.35},{"x":0.4},{"x":0.45},{"x":0.5},{"x":0.55},{"x":0.6},{"x":0.62},{"x":0.7},{"x":0.78}]},
"mark":{"type":"point","shape":"M-1,0H1M0,-1V1","size":36,"filled":false,"color":"#8a8a8a","strokeWidth":1.2,"opacity":1},
"encoding":{"x":{"field":"x","type":"quantitative","scale":{"domain":[-2,2],"nice":false,"zero":false},"axis":{"orient":"top","values":[-2,0,2],"labels":false,"title":null}},"y":{"datum":0.3,"type":"quantitative","scale":{"domain":[0,0.35],"nice":false},"axis":{"orient":"right","values":[0,0.05,0.1,0.15,0.2,0.25,0.3],"labels":false,"title":null}}}},
{"data":{"values":[
{"s":"xy|xx","x":-2,"y":0},{"s":"xy|xx","x":-0.25,"y":0},{"s":"xy|xx","x":-0.15,"y":0.01},{"s":"xy|xx","x":-0.05,"y":0.05},{"s":"xy|xx","x":0.05,"y":0.12},{"s":"xy|xx","x":0.15,"y":0.21},{"s":"xy|xx","x":0.25,"y":0.28},{"s":"xy|xx","x":0.32,"y":0.24},{"s":"xy|xx","x":0.42,"y":0.15},{"s":"xy|xx","x":0.52,"y":0.07},{"s":"xy|xx","x":0.62,"y":0.02},{"s":"xy|xx","x":0.72,"y":0.005},{"s":"xy|xx","x":0.8,"y":0},{"s":"xy|xx","x":2,"y":0},
{"s":"xx|xx","x":-2,"y":0},{"s":"xx|xx","x":-0.35,"y":0},{"s":"xx|xx","x":-0.25,"y":0.02},{"s":"xx|xx","x":-0.15,"y":0.06},{"s":"xx|xx","x":-0.05,"y":0.15},{"s":"xx|xx","x":0.05,"y":0.25},{"s":"xx|xx","x":0.1,"y":0.275},{"s":"xx|xx","x":0.18,"y":0.24},{"s":"xx|xx","x":0.28,"y":0.14},{"s":"xx|xx","x":0.38,"y":0.06},{"s":"xx|xx","x":0.48,"y":0.015},{"s":"xx|xx","x":0.58,"y":0},{"s":"xx|xx","x":2,"y":0},
{"s":"xy|xy","x":-2,"y":0},{"s":"xy|xy","x":-0.3,"y":0},{"s":"xy|xy","x":-0.2,"y":0.02},{"s":"xy|xy","x":-0.1,"y":0.06},{"s":"xy|xy","x":0,"y":0.14},{"s":"xy|xy","x":0.1,"y":0.23},{"s":"xy|xy","x":0.17,"y":0.27},{"s":"xy|xy","x":0.25,"y":0.23},{"s":"xy|xy","x":0.35,"y":0.13},{"s":"xy|xy","x":0.45,"y":0.05},{"s":"xy|xy","x":0.55,"y":0.01},{"s":"xy|xy","x":0.65,"y":0},{"s":"xy|xy","x":2,"y":0},
{"s":"xx|xy","x":-2,"y":0},{"s":"xx|xy","x":-0.35,"y":0},{"s":"xx|xy","x":-0.25,"y":0.01},{"s":"xx|xy","x":-0.15,"y":0.04},{"s":"xx|xy","x":-0.05,"y":0.1},{"s":"xx|xy","x":0.05,"y":0.19},{"s":"xx|xy","x":0.12,"y":0.26},{"s":"xx|xy","x":0.2,"y":0.294},{"s":"xx|xy","x":0.27,"y":0.22},{"s":"xx|xy","x":0.35,"y":0.12},{"s":"xx|xy","x":0.45,"y":0.04},{"s":"xx|xy","x":0.55,"y":0.01},{"s":"xx|xy","x":0.65,"y":0},{"s":"xx|xy","x":2,"y":0}
]},
"mark":{"type":"line","strokeWidth":1.3,"clip":true},
"encoding":{"x":{"field":"x","type":"quantitative","scale":{"domain":[-2,2],"nice":false,"zero":false},"axis":{"values":[-2,0,2],"labelPadding":7,"title":["Projection value","(a.u.)"],"titlePadding":13,"titleLineHeight":13}},
"y":{"field":"y","type":"quantitative","scale":{"domain":[0,0.35],"nice":false},"axis":{"values":[0,0.05,0.1,0.15,0.2,0.25,0.3],"labels":false,"title":null}},
"color":{"field":"s","type":"nominal","scale":{"domain":["xy|xx","xx|xx","xy|xy","xx|xy"],"range":["#1f6ad6","#e5531f","#7d2d94","#f3a81b"]},"legend":null}}},
{"data":{"values":[{"t":"×10⁵"}]},"mark":{"type":"text","align":"right","baseline":"middle","dx":6,"dy":21,"fontSize":8.5,"font":"Liberation Sans","color":"#333"},"encoding":{"x":{"datum":2,"type":"quantitative","axis":null},"y":{"datum":0,"type":"quantitative","axis":null},"text":{"field":"t"}}}
]},

{"width":91,"height":121,"resolve":{"axis":{"x":"independent","y":"independent"}},"layer":[
{"data":{"values":[{"x":-0.68},{"x":-0.54},{"x":-0.32},{"x":-0.3},{"x":-0.25},{"x":-0.2},{"x":-0.15},{"x":-0.1},{"x":-0.05},{"x":0},{"x":0.05},{"x":0.1},{"x":0.15},{"x":0.2},{"x":0.25},{"x":0.3},{"x":0.35},{"x":0.4},{"x":0.45},{"x":0.5},{"x":0.55},{"x":0.6},{"x":0.65},{"x":0.7},{"x":0.75},{"x":0.8},{"x":0.86},{"x":1.0},{"x":1.22},{"x":1.4}]},
"mark":{"type":"point","shape":"M-1,0H1M0,-1V1","size":36,"filled":false,"color":"#8a8a8a","strokeWidth":1.2,"opacity":1},
"encoding":{"x":{"field":"x","type":"quantitative","scale":{"domain":[-2,2],"nice":false,"zero":false},"axis":{"orient":"top","values":[-2,0,2],"labels":false,"title":null}},"y":{"datum":0.3,"type":"quantitative","scale":{"domain":[0,0.35],"nice":false},"axis":{"orient":"right","values":[0,0.05,0.1,0.15,0.2,0.25,0.3],"labels":false,"title":null}}}},
{"data":{"values":[
{"s":"xy|xx","x":-2,"y":0},{"s":"xy|xx","x":-0.78,"y":0},{"s":"xy|xx","x":-0.72,"y":0.01},{"s":"xy|xx","x":-0.65,"y":0},{"s":"xy|xx","x":-0.25,"y":0},{"s":"xy|xx","x":-0.15,"y":0.01},{"s":"xy|xx","x":-0.05,"y":0.05},{"s":"xy|xx","x":0.05,"y":0.1},{"s":"xy|xx","x":0.15,"y":0.16},{"s":"xy|xx","x":0.25,"y":0.18},{"s":"xy|xx","x":0.35,"y":0.17},{"s":"xy|xx","x":0.45,"y":0.185},{"s":"xy|xx","x":0.52,"y":0.18},{"s":"xy|xx","x":0.58,"y":0.12},{"s":"xy|xx","x":0.68,"y":0.06},{"s":"xy|xx","x":0.78,"y":0.02},{"s":"xy|xx","x":0.88,"y":0.005},{"s":"xy|xx","x":0.95,"y":0},{"s":"xy|xx","x":2,"y":0},
{"s":"xx|xx","x":-2,"y":0},{"s":"xx|xx","x":-0.35,"y":0},{"s":"xx|xx","x":-0.25,"y":0.01},{"s":"xx|xx","x":-0.15,"y":0.03},{"s":"xx|xx","x":-0.05,"y":0.08},{"s":"xx|xx","x":0.05,"y":0.15},{"s":"xx|xx","x":0.15,"y":0.19},{"s":"xx|xx","x":0.2,"y":0.2},{"s":"xx|xx","x":0.3,"y":0.17},{"s":"xx|xx","x":0.4,"y":0.13},{"s":"xx|xx","x":0.5,"y":0.08},{"s":"xx|xx","x":0.6,"y":0.04},{"s":"xx|xx","x":0.7,"y":0.015},{"s":"xx|xx","x":0.8,"y":0},{"s":"xx|xx","x":2,"y":0},
{"s":"xy|xy","x":-2,"y":0},{"s":"xy|xy","x":-0.35,"y":0},{"s":"xy|xy","x":-0.25,"y":0.02},{"s":"xy|xy","x":-0.15,"y":0.05},{"s":"xy|xy","x":-0.05,"y":0.1},{"s":"xy|xy","x":0.05,"y":0.15},{"s":"xy|xy","x":0.15,"y":0.19},{"s":"xy|xy","x":0.23,"y":0.213},{"s":"xy|xy","x":0.3,"y":0.18},{"s":"xy|xy","x":0.4,"y":0.14},{"s":"xy|xy","x":0.5,"y":0.1},{"s":"xy|xy","x":0.6,"y":0.05},{"s":"xy|xy","x":0.7,"y":0.02},{"s":"xy|xy","x":0.8,"y":0.005},{"s":"xy|xy","x":0.9,"y":0},{"s":"xy|xy","x":2,"y":0},
{"s":"xx|xy","x":-2,"y":0},{"s":"xx|xy","x":-0.2,"y":0},{"s":"xx|xy","x":-0.1,"y":0.02},{"s":"xx|xy","x":0,"y":0.09},{"s":"xx|xy","x":0.05,"y":0.17},{"s":"xx|xy","x":0.1,"y":0.15},{"s":"xx|xy","x":0.15,"y":0.19},{"s":"xx|xy","x":0.22,"y":0.2},{"s":"xx|xy","x":0.3,"y":0.16},{"s":"xx|xy","x":0.4,"y":0.12},{"s":"xx|xy","x":0.5,"y":0.08},{"s":"xx|xy","x":0.6,"y":0.04},{"s":"xx|xy","x":0.7,"y":0.02},{"s":"xx|xy","x":0.8,"y":0.01},{"s":"xx|xy","x":0.9,"y":0},{"s":"xx|xy","x":2,"y":0}
]},
"mark":{"type":"line","strokeWidth":1.3,"clip":true},
"encoding":{"x":{"field":"x","type":"quantitative","scale":{"domain":[-2,2],"nice":false,"zero":false},"axis":{"values":[-2,0,2],"labelPadding":7,"title":["Projection value","(a.u.)"],"titlePadding":13,"titleLineHeight":13}},
"y":{"field":"y","type":"quantitative","scale":{"domain":[0,0.35],"nice":false},"axis":{"values":[0,0.05,0.1,0.15,0.2,0.25,0.3],"labels":false,"title":null}},
"color":{"field":"s","type":"nominal","scale":{"domain":["xy|xx","xx|xx","xy|xy","xx|xy"],"range":["#1f6ad6","#e5531f","#7d2d94","#f3a81b"]},"legend":null}}},
{"data":{"values":[{"t":"×10⁵"}]},"mark":{"type":"text","align":"right","baseline":"middle","dx":6,"dy":21,"fontSize":8.5,"font":"Liberation Sans","color":"#333"},"encoding":{"x":{"datum":2,"type":"quantitative","axis":null},"y":{"datum":0,"type":"quantitative","axis":null},"text":{"field":"t"}}}
]},

{"width":91,"height":121,"resolve":{"axis":{"x":"independent","y":"independent"}},"layer":[
{"data":{"values":[{"x":-1.38},{"x":-1.0},{"x":-0.84},{"x":-0.75},{"x":-0.7},{"x":-0.65},{"x":-0.6},{"x":-0.55},{"x":-0.5},{"x":-0.45},{"x":-0.4},{"x":-0.35},{"x":-0.3},{"x":-0.25},{"x":-0.2},{"x":-0.15},{"x":-0.1},{"x":-0.05},{"x":0},{"x":0.05},{"x":0.1},{"x":0.15},{"x":0.2},{"x":0.25},{"x":0.3},{"x":0.35},{"x":0.4},{"x":0.45},{"x":0.5},{"x":0.55},{"x":0.6},{"x":0.65},{"x":0.7},{"x":0.75},{"x":0.8},{"x":0.85},{"x":0.9},{"x":0.95},{"x":1.0},{"x":1.05},{"x":1.1},{"x":1.15},{"x":1.2},{"x":1.25},{"x":1.3},{"x":1.35},{"x":1.4},{"x":1.45},{"x":1.5},{"x":1.55},{"x":1.6},{"x":1.65},{"x":1.7},{"x":1.75},{"x":1.8},{"x":1.85},{"x":1.93},{"x":2.1}]},
"mark":{"type":"point","shape":"M-1,0H1M0,-1V1","size":36,"filled":false,"color":"#8a8a8a","strokeWidth":1.2,"opacity":1},
"encoding":{"x":{"field":"x","type":"quantitative","scale":{"domain":[-2.15,2.4],"nice":false,"zero":false},"axis":{"orient":"top","values":[-2,0,2],"labels":false,"title":null}},"y":{"datum":0.3,"type":"quantitative","scale":{"domain":[0,0.35],"nice":false},"axis":{"orient":"right","values":[0,0.05,0.1,0.15,0.2,0.25,0.3],"labels":false,"title":null}}}},
{"data":{"values":[
{"s":"xy|xx","x":-2.15,"y":0},{"s":"xy|xx","x":-0.75,"y":0},{"s":"xy|xx","x":-0.65,"y":0.01},{"s":"xy|xx","x":-0.5,"y":0.02},{"s":"xy|xx","x":-0.35,"y":0.03},{"s":"xy|xx","x":-0.2,"y":0.04},{"s":"xy|xx","x":-0.05,"y":0.05},{"s":"xy|xx","x":0.05,"y":0.06},{"s":"xy|xx","x":0.15,"y":0.085},{"s":"xy|xx","x":0.22,"y":0.05},{"s":"xy|xx","x":0.35,"y":0.08},{"s":"xy|xx","x":0.45,"y":0.1},{"s":"xy|xx","x":0.55,"y":0.09},{"s":"xy|xx","x":0.7,"y":0.08},{"s":"xy|xx","x":0.85,"y":0.09},{"s":"xy|xx","x":0.97,"y":0.1},{"s":"xy|xx","x":1.05,"y":0.08},{"s":"xy|xx","x":1.15,"y":0.06},{"s":"xy|xx","x":1.25,"y":0.05},{"s":"xy|xx","x":1.4,"y":0.045},{"s":"xy|xx","x":1.55,"y":0.04},{"s":"xy|xx","x":1.7,"y":0.03},{"s":"xy|xx","x":1.85,"y":0.02},{"s":"xy|xx","x":1.97,"y":0.01},{"s":"xy|xx","x":2.05,"y":0},{"s":"xy|xx","x":2.4,"y":0},
{"s":"xx|xx","x":-2.15,"y":0},{"s":"xx|xx","x":-1.0,"y":0},{"s":"xx|xx","x":-0.9,"y":0.01},{"s":"xx|xx","x":-0.75,"y":0.03},{"s":"xx|xx","x":-0.6,"y":0.06},{"s":"xx|xx","x":-0.45,"y":0.09},{"s":"xx|xx","x":-0.3,"y":0.11},{"s":"xx|xx","x":-0.15,"y":0.119},{"s":"xx|xx","x":0,"y":0.1},{"s":"xx|xx","x":0.1,"y":0.09},{"s":"xx|xx","x":0.2,"y":0.08},{"s":"xx|xx","x":0.3,"y":0.07},{"s":"xx|xx","x":0.45,"y":0.06},{"s":"xx|xx","x":0.6,"y":0.04},{"s":"xx|xx","x":0.75,"y":0.03},{"s":"xx|xx","x":0.9,"y":0.035},{"s":"xx|xx","x":1.0,"y":0.04},{"s":"xx|xx","x":1.1,"y":0.02},{"s":"xx|xx","x":1.25,"y":0.01},{"s":"xx|xx","x":1.4,"y":0.005},{"s":"xx|xx","x":1.5,"y":0},{"s":"xx|xx","x":2.4,"y":0},
{"s":"xy|xy","x":-2.15,"y":0},{"s":"xy|xy","x":-0.85,"y":0},{"s":"xy|xy","x":-0.75,"y":0.01},{"s":"xy|xy","x":-0.55,"y":0.02},{"s":"xy|xy","x":-0.35,"y":0.03},{"s":"xy|xy","x":-0.15,"y":0.04},{"s":"xy|xy","x":0.05,"y":0.06},{"s":"xy|xy","x":0.25,"y":0.07},{"s":"xy|xy","x":0.45,"y":0.09},{"s":"xy|xy","x":0.62,"y":0.102},{"s":"xy|xy","x":0.75,"y":0.09},{"s":"xy|xy","x":0.9,"y":0.08},{"s":"xy|xy","x":1.05,"y":0.065},{"s":"xy|xy","x":1.2,"y":0.05},{"s":"xy|xy","x":1.35,"y":0.04},{"s":"xy|xy","x":1.5,"y":0.03},{"s":"xy|xy","x":1.65,"y":0.02},{"s":"xy|xy","x":1.8,"y":0.01},{"s":"xy|xy","x":1.95,"y":0.005},{"s":"xy|xy","x":2.05,"y":0},{"s":"xy|xy","x":2.4,"y":0},
{"s":"xx|xy","x":-2.15,"y":0},{"s":"xx|xy","x":-1.0,"y":0},{"s":"xx|xy","x":-0.9,"y":0.005},{"s":"xx|xy","x":-0.8,"y":0.01},{"s":"xx|xy","x":-0.6,"y":0.03},{"s":"xx|xy","x":-0.4,"y":0.06},{"s":"xx|xy","x":-0.2,"y":0.1},{"s":"xx|xy","x":-0.05,"y":0.126},{"s":"xx|xy","x":0.05,"y":0.11},{"s":"xx|xy","x":0.15,"y":0.1},{"s":"xx|xy","x":0.25,"y":0.12},{"s":"xx|xy","x":0.35,"y":0.145},{"s":"xx|xy","x":0.45,"y":0.1},{"s":"xx|xy","x":0.55,"y":0.08},{"s":"xx|xy","x":0.65,"y":0.09},{"s":"xx|xy","x":0.8,"y":0.08},{"s":"xx|xy","x":0.9,"y":0.05},{"s":"xx|xy","x":1.0,"y":0.04},{"s":"xx|xy","x":1.15,"y":0.03},{"s":"xx|xy","x":1.3,"y":0.025},{"s":"xx|xy","x":1.45,"y":0.02},{"s":"xx|xy","x":1.6,"y":0.015},{"s":"xx|xy","x":1.75,"y":0.01},{"s":"xx|xy","x":1.9,"y":0.005},{"s":"xx|xy","x":2.0,"y":0},{"s":"xx|xy","x":2.4,"y":0}
]},
"mark":{"type":"line","strokeWidth":1.3,"clip":true},
"encoding":{"x":{"field":"x","type":"quantitative","scale":{"domain":[-2.15,2.4],"nice":false,"zero":false},"axis":{"values":[-2,0,2],"labelPadding":7,"title":["Projection value","(a.u.)"],"titlePadding":13,"titleLineHeight":13}},
"y":{"field":"y","type":"quantitative","scale":{"domain":[0,0.35],"nice":false},"axis":{"values":[0,0.05,0.1,0.15,0.2,0.25,0.3],"labels":false,"title":null}},
"color":{"field":"s","type":"nominal","scale":{"domain":["xy|xx","xx|xx","xy|xy","xx|xy"],"range":["#1f6ad6","#e5531f","#7d2d94","#f3a81b"]},"legend":null}}},
{"data":{"values":[{"t":"×10⁵"}]},"mark":{"type":"text","align":"right","baseline":"middle","dx":6,"dy":21,"fontSize":8.5,"font":"Liberation Sans","color":"#333"},"encoding":{"x":{"datum":2,"type":"quantitative","axis":null},"y":{"datum":0,"type":"quantitative","axis":null},"text":{"field":"t"}}}
]},

{"width":91,"height":121,"resolve":{"axis":{"x":"independent","y":"independent"}},"layer":[
{"data":{"values":[{"x":-2.02},{"x":-1.82},{"x":-1.7},{"x":-1.65},{"x":-1.6},{"x":-1.55},{"x":-1.5},{"x":-1.45},{"x":-1.4},{"x":-1.35},{"x":-1.3},{"x":-1.25},{"x":-1.2},{"x":-1.15},{"x":-1.1},{"x":-1.05},{"x":-1.0},{"x":-0.95},{"x":-0.9},{"x":-0.85},{"x":-0.8},{"x":-0.75},{"x":-0.7},{"x":-0.65},{"x":-0.6},{"x":-0.55},{"x":-0.5},{"x":-0.45},{"x":-0.4},{"x":-0.35},{"x":-0.3},{"x":-0.25},{"x":-0.2},{"x":-0.15},{"x":-0.1},{"x":-0.05},{"x":0},{"x":0.05},{"x":0.1},{"x":0.15},{"x":0.2},{"x":0.25},{"x":0.3},{"x":0.35},{"x":0.4},{"x":0.45},{"x":0.5},{"x":0.55},{"x":0.6},{"x":0.65},{"x":0.7},{"x":0.75},{"x":0.8},{"x":0.85},{"x":0.9},{"x":0.95},{"x":1.0},{"x":1.05},{"x":1.1},{"x":1.15},{"x":1.2},{"x":1.25},{"x":1.3},{"x":1.35},{"x":1.4},{"x":1.45},{"x":1.5},{"x":1.55},{"x":1.6},{"x":1.65},{"x":1.7},{"x":1.75},{"x":1.8},{"x":1.85},{"x":1.9},{"x":1.95},{"x":2.0},{"x":2.08},{"x":2.17},{"x":2.33}]},
"mark":{"type":"point","shape":"M-1,0H1M0,-1V1","size":36,"filled":false,"color":"#8a8a8a","strokeWidth":1.2,"opacity":1},
"encoding":{"x":{"field":"x","type":"quantitative","scale":{"domain":[-2.15,2.4],"nice":false,"zero":false},"axis":{"orient":"top","values":[-2,0,2],"labels":false,"title":null}},"y":{"datum":0.3,"type":"quantitative","scale":{"domain":[0,0.35],"nice":false},"axis":{"orient":"right","values":[0,0.05,0.1,0.15,0.2,0.25,0.3],"labels":false,"title":null}}}},
{"data":{"values":[
{"s":"xy|xx","x":-2.15,"y":0},{"s":"xy|xx","x":-1.5,"y":0},{"s":"xy|xx","x":-1.4,"y":0.01},{"s":"xy|xx","x":-1.26,"y":0.02},{"s":"xy|xx","x":-1.15,"y":0.005},{"s":"xy|xx","x":-1.0,"y":0.01},{"s":"xy|xx","x":-0.85,"y":0.02},{"s":"xy|xx","x":-0.7,"y":0.01},{"s":"xy|xx","x":-0.5,"y":0.015},{"s":"xy|xx","x":-0.34,"y":0.025},{"s":"xy|xx","x":-0.2,"y":0.02},{"s":"xy|xx","x":-0.09,"y":0.04},{"s":"xy|xx","x":0.1,"y":0.06},{"s":"xy|xx","x":0.25,"y":0.07},{"s":"xy|xx","x":0.4,"y":0.09},{"s":"xy|xx","x":0.55,"y":0.1},{"s":"xy|xx","x":0.66,"y":0.11},{"s":"xy|xx","x":0.8,"y":0.11},{"s":"xy|xx","x":0.95,"y":0.112},{"s":"xy|xx","x":1.03,"y":0.1},{"s":"xy|xx","x":1.08,"y":0.03},{"s":"xy|xx","x":1.2,"y":0.02},{"s":"xy|xx","x":1.33,"y":0.01},{"s":"xy|xx","x":1.5,"y":0.01},{"s":"xy|xx","x":1.6,"y":0},{"s":"xy|xx","x":2.4,"y":0},
{"s":"xx|xx","x":-2.15,"y":0},{"s":"xx|xx","x":-1.9,"y":0},{"s":"xx|xx","x":-1.8,"y":0.005},{"s":"xx|xx","x":-1.6,"y":0.01},{"s":"xx|xx","x":-1.4,"y":0.015},{"s":"xx|xx","x":-1.2,"y":0.01},{"s":"xx|xx","x":-1.0,"y":0.02},{"s":"xx|xx","x":-0.8,"y":0.015},{"s":"xx|xx","x":-0.6,"y":0.02},{"s":"xx|xx","x":-0.4,"y":0.025},{"s":"xx|xx","x":-0.2,"y":0.02},{"s":"xx|xx","x":0,"y":0.03},{"s":"xx|xx","x":0.1,"y":0.05},{"s":"xx|xx","x":0.2,"y":0.07},{"s":"xx|xx","x":0.3,"y":0.09},{"s":"xx|xx","x":0.4,"y":0.105},{"s":"xx|xx","x":0.49,"y":0.11},{"s":"xx|xx","x":0.6,"y":0.1},{"s":"xx|xx","x":0.7,"y":0.08},{"s":"xx|xx","x":0.8,"y":0.07},{"s":"xx|xx","x":0.91,"y":0.05},{"s":"xx|xx","x":1.0,"y":0.035},{"s":"xx|xx","x":1.16,"y":0.02},{"s":"xx|xx","x":1.3,"y":0.01},{"s":"xx|xx","x":1.45,"y":0.005},{"s":"xx|xx","x":1.6,"y":0},{"s":"xx|xx","x":2.4,"y":0},
{"s":"xy|xy","x":-2.15,"y":0},{"s":"xy|xy","x":-1.7,"y":0},{"s":"xy|xy","x":-1.6,"y":0.005},{"s":"xy|xy","x":-1.4,"y":0.01},{"s":"xy|xy","x":-1.2,"y":0.015},{"s":"xy|xy","x":-1.0,"y":0.01},{"s":"xy|xy","x":-0.8,"y":0.02},{"s":"xy|xy","x":-0.6,"y":0.015},{"s":"xy|xy","x":-0.4,"y":0.02},{"s":"xy|xy","x":-0.2,"y":0.025},{"s":"xy|xy","x":0,"y":0.04},{"s":"xy|xy","x":0.1,"y":0.055},{"s":"xy|xy","x":0.24,"y":0.07},{"s":"xy|xy","x":0.4,"y":0.1},{"s":"xy|xy","x":0.5,"y":0.105},{"s":"xy|xy","x":0.58,"y":0.111},{"s":"xy|xy","x":0.7,"y":0.09},{"s":"xy|xy","x":0.83,"y":0.07},{"s":"xy|xy","x":1.0,"y":0.04},{"s":"xy|xy","x":1.15,"y":0.02},{"s":"xy|xy","x":1.3,"y":0.01},{"s":"xy|xy","x":1.45,"y":0.005},{"s":"xy|xy","x":1.6,"y":0},{"s":"xy|xy","x":2.4,"y":0},
{"s":"xx|xy","x":-2.15,"y":0},{"s":"xx|xy","x":-2.0,"y":0.005},{"s":"xx|xy","x":-1.8,"y":0.01},{"s":"xx|xy","x":-1.6,"y":0.02},{"s":"xx|xy","x":-1.4,"y":0.01},{"s":"xx|xy","x":-1.2,"y":0.02},{"s":"xx|xy","x":-1.0,"y":0.025},{"s":"xx|xy","x":-0.8,"y":0.02},{"s":"xx|xy","x":-0.6,"y":0.01},{"s":"xx|xy","x":-0.5,"y":0},{"s":"xx|xy","x":-0.4,"y":0.01},{"s":"xx|xy","x":-0.3,"y":0.02},{"s":"xx|xy","x":-0.2,"y":0.025},{"s":"xx|xy","x":-0.1,"y":0.02},{"s":"xx|xy","x":0,"y":0.03},{"s":"xx|xy","x":0.07,"y":0.05},{"s":"xx|xy","x":0.16,"y":0.09},{"s":"xx|xy","x":0.24,"y":0.12},{"s":"xx|xy","x":0.3,"y":0.17},{"s":"xx|xy","x":0.36,"y":0.197},{"s":"xx|xy","x":0.42,"y":0.14},{"s":"xx|xy","x":0.49,"y":0.08},{"s":"xx|xy","x":0.57,"y":0.04},{"s":"xx|xy","x":0.66,"y":0.01},{"s":"xx|xy","x":0.8,"y":0},{"s":"xx|xy","x":1.5,"y":0},{"s":"xx|xy","x":1.6,"y":0.01},{"s":"xx|xy","x":1.75,"y":0.01},{"s":"xx|xy","x":1.9,"y":0.005},{"s":"xx|xy","x":2.0,"y":0.01},{"s":"xx|xy","x":2.1,"y":0},{"s":"xx|xy","x":2.4,"y":0}
]},
"mark":{"type":"line","strokeWidth":1.3,"clip":true},
"encoding":{"x":{"field":"x","type":"quantitative","scale":{"domain":[-2.15,2.4],"nice":false,"zero":false},"axis":{"values":[-2,0,2],"labelPadding":7,"title":["Projection value","(a.u.)"],"titlePadding":13,"titleLineHeight":13}},
"y":{"field":"y","type":"quantitative","scale":{"domain":[0,0.35],"nice":false},"axis":{"values":[0,0.05,0.1,0.15,0.2,0.25,0.3],"labels":false,"title":null}},
"color":{"field":"s","type":"nominal","scale":{"domain":["xy|xx","xx|xx","xy|xy","xx|xy"],"range":["#1f6ad6","#e5531f","#7d2d94","#f3a81b"]},"legend":null}}},
{"data":{"values":[{"t":"×10⁵"}]},"mark":{"type":"text","align":"right","baseline":"middle","dx":6,"dy":21,"fontSize":8.5,"font":"Liberation Sans","color":"#333"},"encoding":{"x":{"datum":2,"type":"quantitative","axis":null},"y":{"datum":0,"type":"quantitative","axis":null},"text":{"field":"t"}}}
]}
]}
]
}
